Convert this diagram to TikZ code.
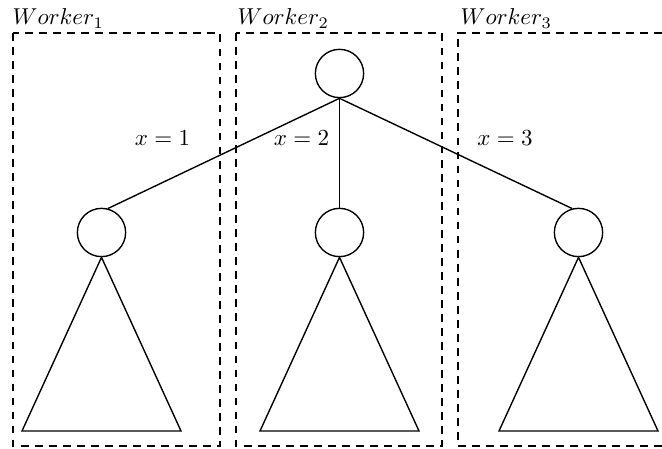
\documentclass[tikz,border=0pt]{standalone}
\begin{document}
\begin{tikzpicture}[x=0.435pt,y=-0.435pt,line width=0.6pt,
  tnode/.style={draw,circle,inner sep=0pt,minimum size=21pt},
  wbox/.style={draw,dash pattern=on 3.4pt off 2.7pt},
  lbl/.style={inner sep=0pt,anchor=base west},
  elbl/.style={inner sep=0pt}]
\useasboundingbox (0,0) rectangle (662,449);
% worker boxes
\draw[wbox] (13,33) rectangle (220,446);
\draw[wbox] (236,33) rectangle (442,446);
\draw[wbox] (662,33) -- (458,33) -- (458,446) -- (662,446);
\node[lbl] (w1) at (12,25) {$Worker_1$};
\node[lbl] (w2) at (237,25) {$Worker_2$};
\node[lbl] (w3) at (460,25) {$Worker_3$};
% nodes
\node[tnode] (r) at (339.5,73.5) {};
\node[tnode] (c1) at (101.5,232.5) {};
\node[tnode] (c2) at (339.5,232.5) {};
\node[tnode] (c3) at (578.5,232.5) {};
% edges
\draw (r.south) -- (c1.75);
\draw (r.south) -- (c2.north);
\draw (r.south) -- (c3.105);
\node[elbl] (x1) at (162.5,138) {$x=1$};
\node[elbl] (x2) at (301.5,138) {$x=2$};
\node[elbl] (x3) at (505,138) {$x=3$};
% subtrees
\coordinate (b1l) at (22,431); \coordinate (b1r) at (181,431);
\coordinate (b2l) at (260,431); \coordinate (b2r) at (419,431);
\coordinate (b3l) at (499,431); \coordinate (b3r) at (658,431);
\draw[line join=miter] (c1.south) -- (b1l) -- (b1r) -- cycle;
\draw[line join=miter] (c2.south) -- (b2l) -- (b2r) -- cycle;
\draw[line join=miter] (c3.south) -- (b3l) -- (b3r) -- cycle;
\end{tikzpicture}
\end{document}
